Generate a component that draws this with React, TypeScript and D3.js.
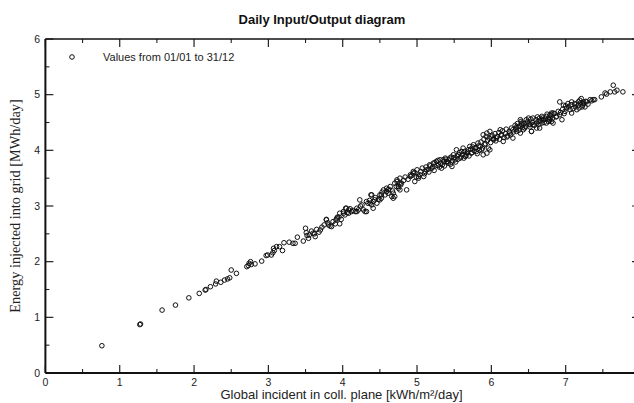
import React from "react";
import * as d3 from "d3";

const title = "Daily Input/Output diagram";
const legendLabel = "Values from 01/01 to 31/12";
const xLabel = "Global incident in coll. plane [kWh/m²/day]";
const yLabel = "Energy injected into grid [MWh/day]";
const xTicks = [0, 1, 2, 3, 4, 5, 6, 7];
const yTicks = [0, 1, 2, 3, 4, 5, 6];
const xMinorTicks = [0.5, 1.5, 2.5, 3.5, 4.5, 5.5, 6.5, 7.5];
const yMinorTicks = [0.5, 1.5, 2.5, 3.5, 4.5, 5.5];

// [global incident kWh/m²/day, energy injected MWh/day]
const lowDays: [number, number][] = [
  [0.76, 0.49], [1.27, 0.87], [1.28, 0.88], [1.57, 1.13], [1.75, 1.22], [1.93, 1.35],
  [2.07, 1.43], [2.15, 1.49], [2.16, 1.5], [2.22, 1.55], [2.29, 1.6], [2.3, 1.65],
  [2.36, 1.63], [2.41, 1.67], [2.45, 1.69], [2.48, 1.71], [2.5, 1.85], [2.57, 1.79],
  [2.71, 1.91], [2.74, 1.97], [2.76, 2.0], [2.77, 1.95], [2.73, 1.93], [2.82, 1.96],
  [2.91, 2.01], [2.97, 2.11], [2.99, 2.12], [3.04, 2.12], [3.06, 2.16], [3.08, 2.2],
  [3.07, 2.24], [3.11, 2.27], [3.15, 2.27], [3.19, 2.2], [3.21, 2.34], [3.28, 2.35],
  [3.33, 2.33], [3.36, 2.33], [3.39, 2.44], [3.47, 2.37], [3.5, 2.6], [3.51, 2.52],
  [3.52, 2.47],
];

const midDays: [number, number][] = [
  [3.54, 2.42], [3.6, 2.51], [3.63, 2.45], [3.7, 2.57], [3.78, 2.75], [3.81, 2.66],
  [3.85, 2.63], [3.91, 2.75], [3.95, 2.8], [3.96, 2.68], [4.01, 2.87], [4.04, 2.96],
  [4.08, 2.87], [4.12, 2.9], [4.19, 2.9], [4.23, 3.11], [4.26, 3.02], [4.3, 2.9],
  [4.32, 3.08], [4.38, 3.2], [4.39, 3.02], [4.43, 3.11], [4.46, 3.05], [4.5, 3.2],
  [4.52, 3.14], [4.55, 3.29], [4.57, 3.2], [4.59, 3.32], [4.61, 3.23], [4.64, 3.35],
  [4.68, 3.14], [4.7, 3.17], [4.73, 3.47], [4.75, 3.35], [4.76, 3.41], [4.77, 3.29],
  [4.86, 3.29], [4.91, 3.53], [4.95, 3.62], [4.97, 3.44], [5.0, 3.65], [5.02, 3.5],
  [5.04, 3.56], [5.09, 3.53], [5.11, 3.62], [5.13, 3.65],
  [3.78, 2.76], [3.92, 2.78], [3.96, 2.87], [4.01, 2.9], [4.03, 2.84], [4.05, 2.96],
  [4.08, 2.93], [4.17, 2.9], [4.21, 2.93], [4.28, 2.93], [4.32, 2.9], [4.34, 3.05],
  [4.37, 3.05], [4.39, 3.2], [4.41, 3.08], [4.41, 2.96], [4.5, 3.11], [4.52, 3.2],
  [4.59, 3.26], [4.61, 3.29], [4.66, 3.17], [4.68, 3.23], [4.7, 3.41], [4.73, 3.44],
  [4.75, 3.32], [4.77, 3.5], [4.79, 3.41], [4.91, 3.56], [4.95, 3.59], [5.02, 3.53],
  [3.55, 2.48], [3.58, 2.55], [3.62, 2.5], [3.65, 2.58], [3.68, 2.53], [3.72, 2.62],
  [3.75, 2.66], [3.8, 2.7], [3.83, 2.64], [3.87, 2.72], [3.9, 2.68], [3.93, 2.8],
  [3.98, 2.76], [4.06, 2.88], [4.1, 2.95], [4.14, 2.92], [4.19, 2.96], [4.24, 3.0],
  [4.36, 3.1], [4.44, 3.15], [4.48, 3.12], [4.53, 3.25], [4.62, 3.3], [4.67, 3.27],
  [4.72, 3.35], [4.78, 3.38], [4.82, 3.46], [4.84, 3.52], [4.88, 3.48], [4.93, 3.55],
  [4.97, 3.6], [4.99, 3.52],
];

const highDays: [number, number][] = [
  [5.17, 3.74], [5.2, 3.68], [5.22, 3.77], [5.26, 3.8], [5.29, 3.74], [5.31, 3.83],
  [5.33, 3.68], [5.35, 3.83], [5.38, 3.86], [5.4, 3.8], [5.42, 3.77], [5.44, 3.86],
  [5.47, 3.71], [5.49, 3.92], [5.51, 3.83], [5.53, 4.01], [5.56, 3.92], [5.58, 3.86],
  [5.6, 3.98], [5.62, 4.04], [5.65, 3.89], [5.67, 3.95], [5.69, 4.01], [5.71, 4.07],
  [5.73, 3.95], [5.76, 4.1], [5.78, 4.04], [5.8, 3.98], [5.82, 4.13], [5.85, 4.07],
  [5.87, 4.01], [5.89, 3.92], [5.91, 4.1], [5.94, 3.95], [5.96, 4.04], [5.98, 4.01],
  [5.89, 4.28], [5.94, 4.31], [5.98, 4.34], [6.0, 4.24], [6.03, 4.19], [6.07, 4.22],
  [6.12, 4.37], [6.14, 4.28], [6.16, 4.16], [6.21, 4.24], [6.25, 4.31], [6.29, 4.22],
  [6.34, 4.34], [6.36, 4.42], [6.39, 4.55], [6.41, 4.46], [6.43, 4.37], [6.48, 4.49],
  [6.5, 4.58], [6.52, 4.42], [6.54, 4.34], [6.56, 4.46], [6.61, 4.4], [6.63, 4.52],
  [6.65, 4.58], [6.68, 4.49], [6.7, 4.55], [6.74, 4.61], [6.77, 4.52], [6.79, 4.58],
  [6.81, 4.67], [6.83, 4.49],
  [5.05, 3.62], [5.07, 3.68], [5.1, 3.58], [5.12, 3.7], [5.15, 3.66], [5.16, 3.61],
  [5.18, 3.72], [5.21, 3.7], [5.23, 3.64], [5.24, 3.78], [5.27, 3.73], [5.28, 3.82],
  [5.3, 3.7], [5.32, 3.77], [5.34, 3.74], [5.36, 3.8], [5.37, 3.72], [5.39, 3.84],
  [5.41, 3.79], [5.43, 3.83], [5.45, 3.75], [5.46, 3.88], [5.48, 3.81], [5.5, 3.87],
  [5.52, 3.79], [5.54, 3.9], [5.55, 3.84], [5.57, 3.96], [5.59, 3.88], [5.61, 3.93],
  [5.63, 3.86], [5.64, 3.98], [5.66, 3.91], [5.68, 3.97], [5.7, 3.9], [5.72, 4.02],
  [5.74, 3.96], [5.75, 4.06], [5.77, 3.99], [5.79, 4.05], [5.81, 3.94], [5.83, 4.08],
  [5.84, 4.0], [5.86, 4.15], [5.88, 4.04], [5.9, 4.2], [5.92, 4.12], [5.93, 4.25],
  [5.95, 4.18], [5.97, 4.22], [5.99, 4.14], [6.01, 4.27], [6.03, 4.21], [6.05, 4.3],
  [6.06, 4.17], [6.08, 4.25], [6.1, 4.32], [6.11, 4.2], [6.13, 4.27], [6.15, 4.35],
  [6.17, 4.23], [6.19, 4.3], [6.2, 4.38], [6.22, 4.26], [6.24, 4.34], [6.26, 4.28],
  [6.27, 4.4], [6.3, 4.33], [6.32, 4.45], [6.33, 4.38], [6.35, 4.48], [6.37, 4.36],
  [6.38, 4.44], [6.4, 4.52], [6.42, 4.41], [6.44, 4.48], [6.46, 4.43], [6.49, 4.52],
  [6.51, 4.47], [6.53, 4.56], [6.55, 4.5], [6.58, 4.45], [6.6, 4.55], [6.62, 4.6],
  [6.64, 4.47], [6.66, 4.53], [6.69, 4.58], [6.71, 4.5], [6.73, 4.56], [6.75, 4.65],
  [6.78, 4.55], [6.8, 4.62], [6.82, 4.57], [6.85, 4.66], [6.87, 4.6], [6.9, 4.7],
  [6.93, 4.68], [6.96, 4.74], [6.98, 4.66],
];

const peakDays: [number, number][] = [
  [6.29, 4.37], [6.34, 4.42], [6.39, 4.31], [6.41, 4.49], [6.45, 4.4], [6.47, 4.55],
  [6.52, 4.46], [6.54, 4.34], [6.56, 4.58], [6.61, 4.49], [6.65, 4.4], [6.68, 4.61],
  [6.7, 4.55], [6.74, 4.49], [6.77, 4.58], [6.79, 4.64], [6.81, 4.52], [6.83, 4.67],
  [6.88, 4.61], [6.92, 4.64], [6.95, 4.55], [6.99, 4.7], [7.01, 4.76], [7.06, 4.73],
  [7.08, 4.67], [7.13, 4.78], [7.15, 4.73], [7.17, 4.81], [7.22, 4.78], [7.24, 4.87],
  [6.92, 4.87], [6.97, 4.81], [7.03, 4.84], [7.08, 4.87], [7.12, 4.84], [7.17, 4.87],
  [7.19, 4.9], [7.21, 4.93], [7.24, 4.84], [7.26, 4.78], [7.28, 4.87], [7.33, 4.91],
  [7.37, 4.91], [7.39, 4.91], [7.48, 4.96], [7.53, 5.03], [7.55, 5.01], [7.6, 5.05],
  [7.64, 5.17], [7.66, 5.05], [7.69, 5.08], [7.77, 5.05],
  [7.0, 4.8], [7.04, 4.78], [7.07, 4.82], [7.1, 4.75], [7.14, 4.83], [7.18, 4.76],
  [7.2, 4.85], [7.23, 4.81], [7.27, 4.88], [7.3, 4.83], [7.35, 4.89],
];

const W = 634;
const H = 403;
const x = d3.scaleLinear().domain([0, 8]).range([45.4, 640]);
const y = d3.scaleLinear().domain([0, 6]).range([373, 39]);

export default function App() {
  const all = [...lowDays, ...midDays, ...highDays, ...peakDays];
  const sans = "'Liberation Sans', Arial, sans-serif";
  const serif = "'Liberation Serif', 'Times New Roman', serif";
  const x0 = x(0);
  const x1 = x(8);
  const y0 = y(0);
  const y1 = y(6);
  return (
    <svg
      width={W}
      height={H}
      style={{ position: "absolute", left: 0, top: 0, background: "#fff" }}
    >
      <rect x={0} y={0} width={W} height={H} fill="#fff" />
      <text x={322} y={24} textAnchor="middle" fontFamily={sans} fontWeight="bold" fontSize={13} fill="#111">
        {title}
      </text>

      {/* ticks */}
      {xTicks.map((t) => (
        <g key={"xt" + t}>
          <line x1={x(t)} x2={x(t)} y1={y0} y2={y0 - 8} stroke="#222" strokeWidth={1.2} />
          <line x1={x(t)} x2={x(t)} y1={y1} y2={y1 + 8} stroke="#222" strokeWidth={1.2} />
          <text x={x(t)} y={386} textAnchor="middle" fontFamily={sans} fontSize={10.5} fill="#222">
            {t}
          </text>
        </g>
      ))}
      {xMinorTicks.map((t) => (
        <g key={"xm" + t}>
          <line x1={x(t)} x2={x(t)} y1={y0} y2={y0 - 4} stroke="#222" strokeWidth={1.1} />
          <line x1={x(t)} x2={x(t)} y1={y1} y2={y1 + 4} stroke="#222" strokeWidth={1.1} />
        </g>
      ))}
      {yTicks.map((t) => (
        <g key={"yt" + t}>
          <line x1={x0} x2={x0 + 8} y1={y(t)} y2={y(t)} stroke="#222" strokeWidth={1.2} />
          <line x1={x1} x2={x1 - 8} y1={y(t)} y2={y(t)} stroke="#222" strokeWidth={1.2} />
          <text x={40} y={y(t) + 3.5} textAnchor="end" fontFamily={sans} fontSize={10.5} fill="#222">
            {t}
          </text>
        </g>
      ))}
      {yMinorTicks.map((t) => (
        <g key={"ym" + t}>
          <line x1={x0} x2={x0 + 4} y1={y(t)} y2={y(t)} stroke="#222" strokeWidth={1.1} />
          <line x1={x1} x2={x1 - 4} y1={y(t)} y2={y(t)} stroke="#222" strokeWidth={1.1} />
        </g>
      ))}

      {/* frame */}
      <line x1={x0} x2={x1} y1={y1} y2={y1} stroke="#111" strokeWidth={1.6} />
      <line x1={x0} x2={x1} y1={y0} y2={y0} stroke="#111" strokeWidth={2} />
      <line x1={x0} x2={x0} y1={y1} y2={y0} stroke="#111" strokeWidth={2} />
      <line x1={x1} x2={x1} y1={y1} y2={y0} stroke="#111" strokeWidth={2} />

      {/* legend */}
      <circle cx={72} cy={57} r={2.3} fill="none" stroke="#111" strokeWidth={1} />
      <text x={103} y={61} fontFamily={sans} fontSize={11} fill="#222">
        {legendLabel}
      </text>

      {/* points */}
      {all.map((d, i) => (
        <circle key={i} cx={x(d[0])} cy={y(d[1])} r={2.3} fill="none" stroke="#111" strokeWidth={1} />
      ))}

      <text x={341.5} y={399} textAnchor="middle" fontFamily={sans} fontSize={13} fill="#222">
        {xLabel}
      </text>
      <text
        transform={`translate(20,206) rotate(-90)`}
        textAnchor="middle"
        fontFamily={serif}
        fontSize={14.3}
        fill="#222"
      >
        {yLabel}
      </text>
    </svg>
  );
}
